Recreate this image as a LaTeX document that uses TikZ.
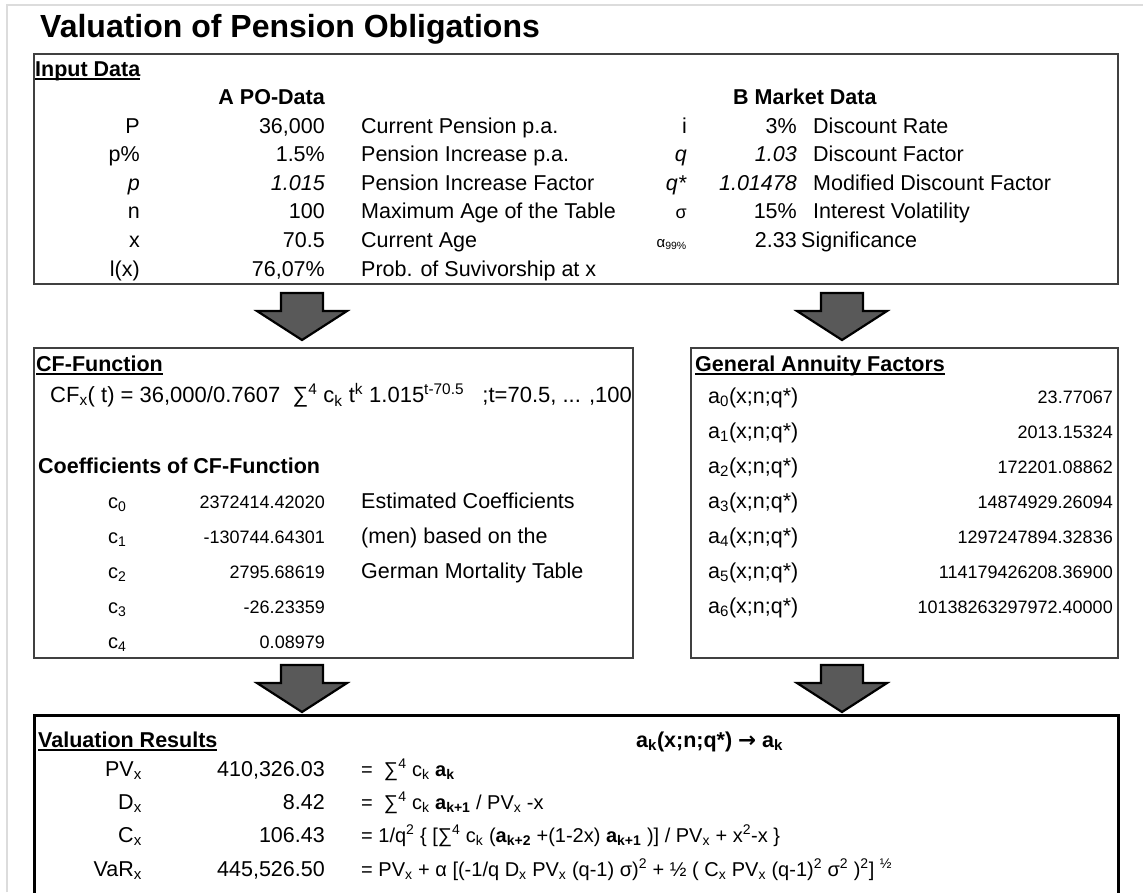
\documentclass[tikz,border=0pt]{standalone}
\usepackage{fontspec}
\setmainfont{Liberation Sans}
\newfontfamily\symfont{DejaVu Sans}
\usetikzlibrary{positioning,calc}
\definecolor{framegray}{HTML}{404040}
\definecolor{arrowgray}{HTML}{595959}
\definecolor{sheetgray}{HTML}{DCDCDC}
\newcommand{\mainsize}{\fontsize{21.5}{26}\selectfont}
\newcommand{\numsize}{\fontsize{18}{22}\selectfont}
\newcommand{\formsize}{\fontsize{20}{24}\selectfont}
\newcommand{\titlesize}{\fontsize{32}{38}\selectfont}
\newcommand{\lo}[1]{\textsubscript{#1}}
\newcommand{\hi}[1]{\textsuperscript{#1}}
\newcommand{\ulbox}[1]{\setbox0\hbox{#1}\rlap{\rule[-3.5pt]{\wd0}{1.4pt}}\box0}

\begin{document}
\begin{tikzpicture}[
    x=1pt, y=-1pt,
    % Styles
    panel/.style={
        rectangle, draw=#1, line width=1.8pt,
        fill=white, anchor=north west, inner sep=0pt
    },
    txt/.style={inner sep=0pt, font=\mainsize},
    lbl/.style={txt, anchor=base east},
    val/.style={txt, anchor=base east},
    desc/.style={txt, anchor=base west},
    heading/.style={txt, anchor=base west, font=\mainsize\bfseries},
    num/.style={inner sep=0pt, anchor=base east, font=\numsize},
    formula/.style={inner sep=0pt, anchor=base west, font=\formsize},
    blockarrow/.pic={
        \draw[fill=arrowgray, draw=black, line width=2.2pt, line join=miter]
            (-21,1) -- (21,1) -- (21,19) -- (45,19) -- (0,48) -- (-45,19) -- (-21,19) -- cycle;
    }
]
\useasboundingbox (0,0) rectangle (1143,892);
\clip (0,0) rectangle (1143,892);
\fill[white] (0,0) rectangle (1143,892);
\draw[sheetgray, line width=2pt] (6.5,892) -- (6.5,5) -- (1143,5);

\node[heading, font=\titlesize\bfseries] (title) at (40,37) {Valuation of Pension Obligations};

% ── PANELS ──
\node[panel=framegray, minimum width=1084pt, minimum height=230pt] (input) at (33,53) {};
\node[panel=framegray, minimum width=599pt, minimum height=310pt] (cf) at (33,347) {};
\node[panel=framegray, minimum width=427pt, minimum height=310pt] (annuity) at (690,347) {};
\node[panel=black, line width=3pt, minimum width=1084pt, minimum height=200pt] (results) at (33,714) {};

% ── BLOCK ARROWS ──
\pic at (302,292) {blockarrow};
\pic at (842,292) {blockarrow};
\pic at (302,664) {blockarrow};
\pic at (842,664) {blockarrow};

% ── INPUT DATA ──
\node[heading] (inhead) at (35,76) {\ulbox{Input Data}};
\node[heading, anchor=base east] (pohead) at (325,104) {A PO-Data};
\node[heading] (mkhead) at (733,104) {B Market Data};

\node[lbl] (lP) at (140,133) {P};
\node[val] (vP) at (325,133) {36,000};
\node[desc] (dP) at (361,133) {Current Pension p.a.};
\node[lbl] (lpp) at (140,161) {p\%};
\node[val] (vpp) at (325,161) {1.5\%};
\node[desc] (dpp) at (361,161) {Pension Increase p.a.};
\node[lbl] (lpf) at (140,190) {\textit{p}};
\node[val] (vpf) at (325,190) {\textit{1.015}};
\node[desc] (dpf) at (361,190) {Pension Increase Factor};
\node[lbl] (ln) at (140,218) {n};
\node[val] (vn) at (325,218) {100};
\node[desc] (dn) at (361,218) {Maximum Age of the Table};
\node[lbl] (lx) at (140,247) {x};
\node[val] (vx) at (325,247) {70.5};
\node[desc] (dx) at (361,247) {Current Age};
\node[lbl] (ll) at (140,276) {l(x)};
\node[val] (vl) at (325,276) {76,07\%};
\node[desc] (dl) at (361,276) {Prob. of Suvivorship at x};

\node[lbl] (li) at (687,133) {i};
\node[val] (vi) at (797,133) {3\%};
\node[desc] (di) at (813,133) {Discount Rate};
\node[lbl] (lq) at (687,161) {\textit{q}};
\node[val] (vq) at (797,161) {\textit{1.03}};
\node[desc] (dq) at (813,161) {Discount Factor};
\node[lbl] (lqs) at (687,190) {\textit{q*}};
\node[val] (vqs) at (797,190) {\textit{1.01478}};
\node[desc] (dqs) at (813,190) {Modified Discount Factor};
\node[lbl, font=\numsize] (ls) at (687,218) {σ};
\node[val] (vs) at (797,218) {15\%};
\node[desc] (ds) at (813,218) {Interest Volatility};
\node[lbl, font=\fontsize{15}{18}\selectfont] (la) at (687,247) {α\lo{99\%}};
\node[val] (va) at (797,247) {2.33};
\node[desc] (da) at (801,247) {Significance};

% ── CF-FUNCTION ──
\node[heading] (cfhead) at (36,371) {\ulbox{CF-Function}};
\node[desc, font=\fontsize{22}{26}\selectfont] (cfform) at (50,402) {CF\lo{x}( t) = 36,000/0.7607~ ∑\hi{4} c\lo{k} t\hi{k} 1.015\hi{t-70.5}~~ ;t=70.5, ... ,100};
\node[heading] (coefhead) at (38,473) {Coefficients of CF-Function};

\node[desc, font=\fontsize{20}{24}\selectfont] (c0) at (108,508) {c\lo{0}};
\node[num] (vc0) at (325,508) {2372414.42020};
\node[desc] (dc0) at (361,508) {Estimated Coefficients};
\node[desc, font=\fontsize{20}{24}\selectfont] (c1) at (108,543) {c\lo{1}};
\node[num] (vc1) at (325,543) {-130744.64301};
\node[desc] (dc1) at (361,543) {(men) based on the};
\node[desc, font=\fontsize{20}{24}\selectfont] (c2) at (108,578) {c\lo{2}};
\node[num] (vc2) at (325,578) {2795.68619};
\node[desc] (dc2) at (361,578) {German Mortality Table};
\node[desc, font=\fontsize{20}{24}\selectfont] (c3) at (108,613) {c\lo{3}};
\node[num] (vc3) at (325,613) {-26.23359};
\node[desc, font=\fontsize{20}{24}\selectfont] (c4) at (108,648) {c\lo{4}};
\node[num] (vc4) at (325,648) {0.08979};

% ── GENERAL ANNUITY FACTORS ──
\node[heading] (afhead) at (695,371) {\ulbox{General Annuity Factors}};
\node[desc] (a0) at (708,403) {a\lo{0}(x;n;q*)};
\node[num] (va0) at (1113,403) {23.77067};
\node[desc] (a1) at (708,438) {a\lo{1}(x;n;q*)};
\node[num] (va1) at (1113,438) {2013.15324};
\node[desc] (a2) at (708,473) {a\lo{2}(x;n;q*)};
\node[num] (va2) at (1113,473) {172201.08862};
\node[desc] (a3) at (708,508) {a\lo{3}(x;n;q*)};
\node[num] (va3) at (1113,508) {14874929.26094};
\node[desc] (a4) at (708,543) {a\lo{4}(x;n;q*)};
\node[num] (va4) at (1113,543) {1297247894.32836};
\node[desc] (a5) at (708,578) {a\lo{5}(x;n;q*)};
\node[num] (va5) at (1113,578) {114179426208.36900};
\node[desc] (a6) at (708,613) {a\lo{6}(x;n;q*)};
\node[num] (va6) at (1113,613) {10138263297972.40000};

% ── VALUATION RESULTS ──
\node[heading] (vrhead) at (38,747) {\ulbox{Valuation Results}};
\node[heading] (akmap) at (636,747) {a\lo{k}(x;n;q*) {\symfont →} a\lo{k}};

\node[lbl] (lPV) at (142,776) {PV\lo{x}};
\node[val] (vPV) at (325,776) {410,326.03};
\node[formula] (fPV) at (361,776) {=~ ∑\hi{4} c\lo{k} \textbf{a\lo{k}}};
\node[lbl] (lD) at (142,809) {D\lo{x}};
\node[val] (vD) at (325,809) {8.42};
\node[formula] (fD) at (361,809) {=~ ∑\hi{4} c\lo{k} \textbf{a\lo{k+1}} / PV\lo{x} -x};
\node[lbl] (lC) at (142,842) {C\lo{x}};
\node[val] (vC) at (325,842) {106.43};
\node[formula] (fC) at (361,842) {= 1/q\hi{2} \{ [∑\hi{4} c\lo{k} (\textbf{a\lo{k+2}} +(1-2x) \textbf{a\lo{k+1}} )] / PV\lo{x} + x\hi{2}-x \}};
\node[lbl] (lV) at (142,876) {VaR\lo{x}};
\node[val] (vV) at (325,876) {445,526.50};
\node[formula] (fV) at (361,876) {= PV\lo{x} + α [(-1/q D\lo{x} PV\lo{x} (q-1) σ)\hi{2} + ½ ( C\lo{x} PV\lo{x} (q-1)\hi{2} σ\hi{2} )\hi{2}] \hi{½}};

\end{tikzpicture}
\end{document}
